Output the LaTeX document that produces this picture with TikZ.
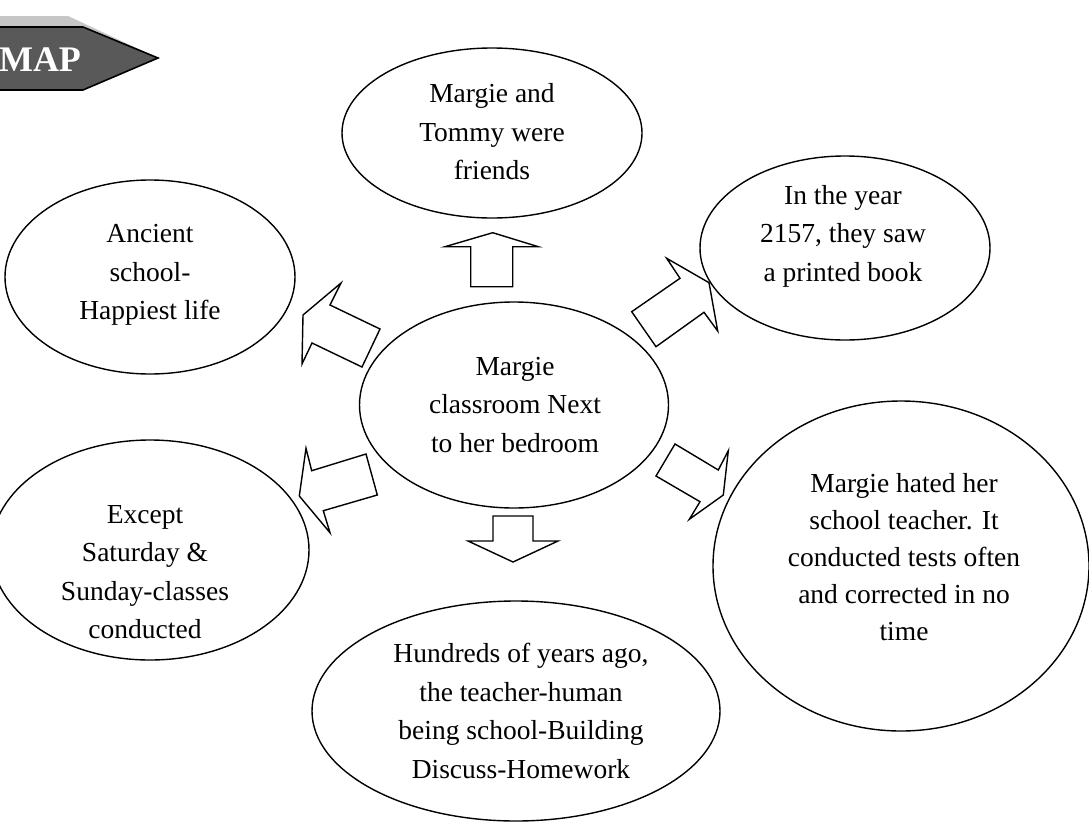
\documentclass[tikz,border=0pt]{standalone}
\usepackage{fontspec}
\setmainfont{Liberation Serif}
\usetikzlibrary{shapes.geometric}
\begin{document}
\begin{tikzpicture}[x=1pt,y=-1pt,
  bubble/.style={draw,line width=1.4pt,ellipse,inner sep=0pt},
  blockarrow/.style={draw,line width=1.4pt,fill=white,line join=miter},
  txt/.style={align=center,inner sep=0pt,font=\fontsize{27.5}{38.5}\selectfont}]
\useasboundingbox (0,0) rectangle (1089,822);
% banner
\fill[gray!45] (0,16) -- (68,16) -- (158,58) -- (83,27) -- (0,27) -- cycle;
\draw[line width=1.6pt,fill=black!65,line join=miter] (-5,27) -- (83,27) -- (158,58) -- (83,90) -- (-5,90);
\node[text=white,inner sep=0pt,font=\fontsize{36}{40}\bfseries\selectfont] (map) at (40,60) {MAP};
% ellipses
\node[bubble,minimum width=300pt,minimum height=170pt] (top) at (492,133) {};
\node[bubble,minimum width=290pt,minimum height=194pt] (ul) at (150,277) {};
\node[bubble,minimum width=290pt,minimum height=184pt] (ur) at (845,248) {};
\node[bubble,minimum width=309pt,minimum height=206pt] (ctr) at (514,405) {};
\node[bubble,minimum width=318pt,minimum height=220pt] (ll) at (150,550) {};
\node[bubble,minimum width=376pt,minimum height=330pt] (lr) at (901,566) {};
\node[bubble,minimum width=408pt,minimum height=220pt] (bot) at (516,711) {};
% texts
\node[txt] (toptxt) at (492,132) {Margie and\\Tommy were\\friends};
\node[txt] (ultxt) at (150,275) {Ancient\\school-\\Happiest life};
\node[txt] (urtxt) at (843,236) {In the year\\2157, they saw\\a printed book};
\node[txt] (ctrtxt) at (515,405) {Margie\\classroom Next\\to her bedroom};
\node[txt] (lltxt) at (145,572) {Except\\Saturday \&\\Sunday-classes\\conducted};
\node[txt,font=\fontsize{27.5}{37}\selectfont] (lrtxt) at (904,557) {Margie hated her\\school teacher. It\\conducted tests often\\and corrected in no\\time};
\node[txt] (bottxt) at (521,711) {Hundreds of years ago,\\the teacher-human\\being school-Building\\Discuss-Homework};
% block arrows
\draw[blockarrow] (303,315) -- (341,283) -- (330,305) -- (380,329) -- (362,367) -- (312,343) -- (302,364) -- cycle;
\draw[blockarrow] (492.7,232.7) -- (538.3,246.7) -- (512.7,246.7) -- (512.7,286.7) -- (470.7,286.7) -- (470.7,246.7) -- (445,246.7) -- cycle;
\draw[blockarrow] (709,282.7) -- (717.7,331) -- (704,312.3) -- (656,346.7) -- (631.7,311.7) -- (680,278.3) -- (666.7,258.3) -- cycle;
\draw[blockarrow] (723.3,495) -- (689.3,519.3) -- (700,501.7) -- (656,476) -- (675,444) -- (718.3,470) -- (728.3,450.7) -- cycle;
\draw[blockarrow] (299.3,496) -- (306,448.3) -- (311.7,470.7) -- (366,454) -- (377.3,495) -- (323.3,510.7) -- (330,532.7) -- cycle;
\draw[blockarrow] (493,516) -- (533,516) -- (533,541) -- (558,541) -- (513,562) -- (468,541) -- (493,541) -- cycle;
\end{tikzpicture}
\end{document}
